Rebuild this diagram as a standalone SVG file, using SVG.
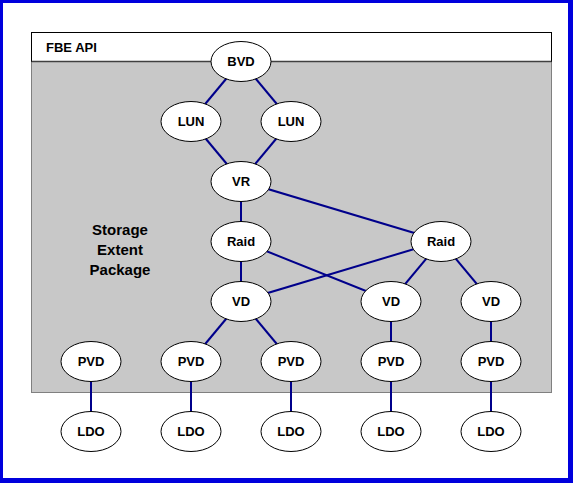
<svg xmlns="http://www.w3.org/2000/svg" width="573" height="483" viewBox="0 0 573 483">
<style>
.n ellipse{fill:#fff;stroke:#000;stroke-width:1}
.n text{font-family:"Liberation Sans",Arial,sans-serif;font-weight:bold;font-size:13px;text-anchor:middle;fill:#000}
.e line{stroke:#00008b;stroke-width:2}
.lbl{font-family:"Liberation Sans",Arial,sans-serif;font-weight:bold;fill:#000}
</style>
<rect x="0" y="0" width="573" height="483" fill="#0000dd"/>
<rect x="3" y="3" width="565" height="475" fill="#fff"/>
<g id="package">
<rect x="31.5" y="61.5" width="520" height="331" fill="#c8c8c8" stroke="#808080" stroke-width="1"/>
<rect x="31.5" y="32.5" width="520" height="29" fill="#fff" stroke="#000" stroke-width="1"/>
<line x1="31.5" y1="61.5" x2="551.5" y2="61.5" stroke="#404040" stroke-width="1.5"/>
<text class="lbl" x="46" y="52" font-size="13">FBE API</text>
<text class="lbl" x="120" y="235" font-size="15" text-anchor="middle">Storage</text>
<text class="lbl" x="120" y="255" font-size="15" text-anchor="middle">Extent</text>
<text class="lbl" x="120" y="275" font-size="15" text-anchor="middle">Package</text>
</g>
<g id="connectors" class="e">
<line x1="241" y1="61" x2="191" y2="121"/>
<line x1="241" y1="61" x2="291" y2="121"/>
<line x1="191" y1="121" x2="241" y2="181"/>
<line x1="291" y1="121" x2="241" y2="181"/>
<line x1="241" y1="181" x2="241" y2="241"/>
<line x1="241" y1="181" x2="441" y2="241"/>
<line x1="241" y1="241" x2="241" y2="301"/>
<line x1="241" y1="241" x2="391" y2="301"/>
<line x1="441" y1="241" x2="241" y2="301"/>
<line x1="441" y1="241" x2="391" y2="301"/>
<line x1="441" y1="241" x2="491" y2="301"/>
<line x1="241" y1="301" x2="191" y2="361"/>
<line x1="241" y1="301" x2="291" y2="361"/>
<line x1="391" y1="301" x2="391" y2="361"/>
<line x1="491" y1="301" x2="491" y2="361"/>
<line x1="91" y1="361" x2="91" y2="431"/>
<line x1="191" y1="361" x2="191" y2="431"/>
<line x1="291" y1="361" x2="291" y2="431"/>
<line x1="391" y1="361" x2="391" y2="431"/>
<line x1="491" y1="361" x2="491" y2="431"/>
</g>
<g id="bvd" class="n"><ellipse cx="241" cy="61.5" rx="30" ry="20"/><text x="241" y="66">BVD</text></g>
<g id="lun1" class="n"><ellipse cx="191" cy="121.5" rx="30" ry="20"/><text x="191" y="126">LUN</text></g>
<g id="lun2" class="n"><ellipse cx="291" cy="121.5" rx="30" ry="20"/><text x="291" y="126">LUN</text></g>
<g id="vr" class="n"><ellipse cx="241" cy="181.5" rx="30" ry="20"/><text x="241" y="186">VR</text></g>
<g id="raid1" class="n"><ellipse cx="241" cy="241.5" rx="30" ry="20"/><text x="241" y="246">Raid</text></g>
<g id="raid2" class="n"><ellipse cx="441" cy="241.5" rx="30" ry="20"/><text x="441" y="246">Raid</text></g>
<g id="vd1" class="n"><ellipse cx="241" cy="301.5" rx="30" ry="20"/><text x="241" y="306">VD</text></g>
<g id="vd2" class="n"><ellipse cx="391" cy="301.5" rx="30" ry="20"/><text x="391" y="306">VD</text></g>
<g id="vd3" class="n"><ellipse cx="491" cy="301.5" rx="30" ry="20"/><text x="491" y="306">VD</text></g>
<g id="pvd1" class="n"><ellipse cx="91" cy="361.5" rx="30" ry="20"/><text x="91" y="366">PVD</text></g>
<g id="pvd2" class="n"><ellipse cx="191" cy="361.5" rx="30" ry="20"/><text x="191" y="366">PVD</text></g>
<g id="pvd3" class="n"><ellipse cx="291" cy="361.5" rx="30" ry="20"/><text x="291" y="366">PVD</text></g>
<g id="pvd4" class="n"><ellipse cx="391" cy="361.5" rx="30" ry="20"/><text x="391" y="366">PVD</text></g>
<g id="pvd5" class="n"><ellipse cx="491" cy="361.5" rx="30" ry="20"/><text x="491" y="366">PVD</text></g>
<g id="ldo1" class="n"><ellipse cx="91" cy="431.5" rx="30" ry="20"/><text x="91" y="436">LDO</text></g>
<g id="ldo2" class="n"><ellipse cx="191" cy="431.5" rx="30" ry="20"/><text x="191" y="436">LDO</text></g>
<g id="ldo3" class="n"><ellipse cx="291" cy="431.5" rx="30" ry="20"/><text x="291" y="436">LDO</text></g>
<g id="ldo4" class="n"><ellipse cx="391" cy="431.5" rx="30" ry="20"/><text x="391" y="436">LDO</text></g>
<g id="ldo5" class="n"><ellipse cx="491" cy="431.5" rx="30" ry="20"/><text x="491" y="436">LDO</text></g>
</svg>
